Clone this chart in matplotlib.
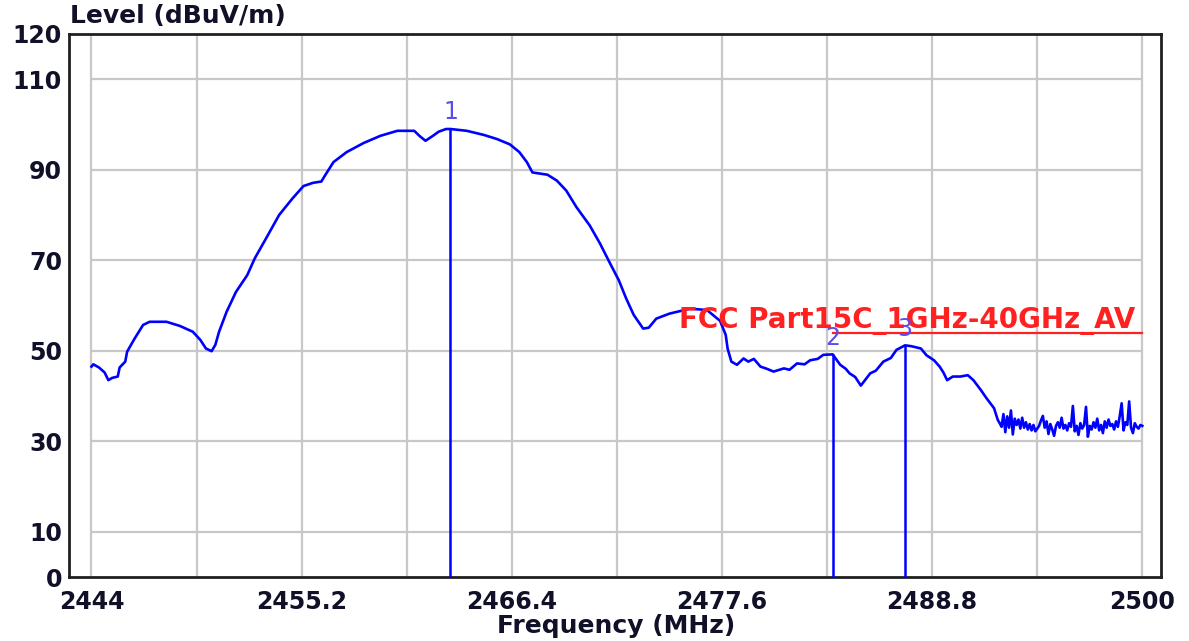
import matplotlib.pyplot as plt

# sweep trace, frequency in MHz and level in dBuV/m
freq = [2444.0, 2444.1, 2444.4, 2444.7, 2444.9, 2445.1, 2445.4, 2445.5, 2445.8, 2445.9,
        2446.3, 2446.75, 2447.1, 2448.0, 2448.7, 2449.4, 2449.8, 2450.1, 2450.4, 2450.6,
        2450.8, 2451.2, 2451.7, 2452.3, 2452.7, 2453.3, 2454.0, 2454.7, 2455.3, 2455.8,
        2456.25, 2456.5, 2456.9, 2457.6, 2458.5, 2459.4, 2460.3, 2461.2, 2461.5, 2461.8,
        2462.2, 2462.5, 2462.9, 2463.13, 2464.0, 2464.9, 2465.6, 2466.3, 2466.8, 2467.2,
        2467.5, 2468.3, 2468.8, 2469.3, 2469.85, 2470.55, 2471.1, 2471.6, 2472.1, 2472.5,
        2472.9, 2473.4, 2473.7, 2474.1, 2474.8, 2475.9, 2476.8, 2477.5, 2477.8, 2477.9,
        2478.1, 2478.4, 2478.75, 2479.0, 2479.3, 2479.65, 2480.0, 2480.35, 2480.9, 2481.2,
        2481.6, 2482.0, 2482.3, 2482.7, 2483.0, 2483.5, 2483.9, 2484.2, 2484.4, 2484.7,
        2485.0, 2485.5, 2485.8, 2486.2, 2486.6, 2486.9, 2487.36, 2487.7, 2488.2, 2488.5,
        2488.9, 2489.2, 2489.4, 2489.6, 2489.9, 2490.3, 2490.7, 2491.0, 2491.4, 2491.7,
        2492.1, 2492.3, 2492.4,
        2492.5, 2492.6, 2492.7, 2492.8, 2492.9, 2493.0, 2493.1, 2493.2, 2493.3, 2493.4,
        2493.5, 2493.6, 2493.7, 2493.8, 2493.9, 2494.0, 2494.1, 2494.2, 2494.3, 2494.4,
        2494.5, 2494.6, 2494.7, 2494.8, 2494.9, 2495.0, 2495.1, 2495.2, 2495.3, 2495.4,
        2495.5, 2495.6, 2495.7, 2495.8, 2495.9, 2496.0, 2496.1, 2496.2, 2496.3, 2496.4,
        2496.5, 2496.6, 2496.7, 2496.8, 2496.9, 2497.0, 2497.1, 2497.2, 2497.3, 2497.4,
        2497.5, 2497.6, 2497.7, 2497.8, 2497.9, 2498.0, 2498.1, 2498.2, 2498.3, 2498.4,
        2498.5, 2498.6, 2498.7, 2498.8, 2498.9, 2499.0, 2499.1, 2499.2, 2499.3, 2499.4,
        2499.5, 2499.6, 2499.7, 2499.8, 2499.9, 2500.0]
level = [46.5, 47.0, 46.3, 45.2, 43.5, 44.0, 44.3, 46.3, 47.6, 49.8,
         52.7, 55.7, 56.4, 56.4, 55.5, 54.2, 52.4, 50.5, 49.9, 51.3,
         54.2, 58.6, 63.0, 66.7, 70.4, 74.8, 80.0, 83.6, 86.4, 87.1,
         87.4, 89.1, 91.7, 93.9, 95.9, 97.5, 98.6, 98.6, 97.4, 96.4,
         97.5, 98.4, 99.0, 99.0, 98.6, 97.7, 96.8, 95.6, 93.9, 91.7,
         89.4, 88.9, 87.6, 85.4, 81.7, 77.7, 73.7, 69.6, 65.6, 61.5,
         57.9, 54.9, 55.1, 57.1, 58.2, 59.3, 59.0, 56.6, 53.5, 50.5,
         47.6, 46.9, 48.3, 47.6, 48.2, 46.5, 46.0, 45.4, 46.1, 45.8,
         47.2, 47.0, 47.9, 48.2, 49.1, 49.2, 46.9, 46.0, 45.0, 44.2,
         42.3, 45.0, 45.6, 47.6, 48.4, 50.2, 51.2, 51.0, 50.5, 49.0,
         47.9, 46.5, 45.2, 43.5, 44.3, 44.3, 44.6, 43.5, 41.3, 39.5,
         37.3, 34.7, 34.0,
         33.2, 36.0, 32.0, 35.5, 33.0, 36.8, 31.5, 35.0, 33.6, 34.8,
         32.8, 35.2, 33.0, 34.2, 32.6, 33.8, 32.4, 33.6, 32.2, 32.8,
         33.4, 34.6, 35.6, 33.0, 34.4, 31.6, 33.8, 32.6, 31.2, 33.4,
         34.2, 33.0, 35.2, 32.8, 33.6, 32.4, 34.0, 33.2, 37.8, 32.2,
         33.4, 31.4, 34.0, 32.8, 33.6, 37.6, 31.0, 33.4, 32.6, 34.2,
         33.0, 35.0, 32.4, 33.6, 31.8, 34.4, 33.0, 34.8, 33.4, 33.8,
         32.6, 34.4, 33.2, 35.6, 38.4, 32.4, 34.2, 33.6, 38.8, 33.0,
         31.8, 34.0, 33.2, 32.8, 33.6, 33.4]

# markers
mk_names = ["1", "2", "3"]
mk_freq = [2463.13, 2483.5, 2487.36]
mk_level = [99.0, 49.2, 51.2]

# limit line
limit_name = "FCC Part15C_1GHz-40GHz_AV"
limit_freq = [2483.5, 2500.0]
limit_level = [54.0, 54.0]

x_ticks = [2444, 2455.2, 2466.4, 2477.6, 2488.8, 2500]
x_tick_labels = ["2444", "2455.2", "2466.4", "2477.6", "2488.8", "2500"]
x_grid = [2444 + 5.6 * k for k in range(11)]
y_ticks = [0, 10, 30, 50, 70, 90, 110, 120]
y_grid = [10, 30, 50, 70, 90, 110]

plt.rcParams['font.family'] = ['DejaVu Sans']

fig = plt.figure(figsize=(11.89, 6.41), dpi=100)
ax = fig.add_axes([0.058, 0.0998, 0.9185, 0.8472])

ax.set_xlim(2442.8, 2501.0)
ax.set_ylim(0, 120)

# grid only spans the data area
ax.vlines(x_grid, 0, 120, color="#c8c8c8", lw=1.6, zorder=0)
ax.hlines(y_grid, 2444, 2500, color="#c8c8c8", lw=1.6, zorder=0)

ax.plot(freq, level, color="#0000ff", lw=1.9, zorder=3)
ax.plot(limit_freq, limit_level, color="#ff2020", lw=1.6, zorder=2)
ax.text(2499.6, 55.0, limit_name, color="#ff2020", fontsize=20,
        fontweight="bold", ha="right", va="baseline", zorder=4)

ax.vlines(mk_freq, 0, mk_level, color="#0000ff", lw=1.8, zorder=3)
for name, f, l in zip(mk_names, mk_freq, mk_level):
    ax.text(f, l + 1.0, name, color="#5b4de8", fontsize=17,
            ha="center", va="bottom", zorder=4)

ax.set_xticks(x_ticks)
ax.set_xticklabels(x_tick_labels)
ax.set_yticks(y_ticks)
ax.tick_params(axis="both", length=0, labelsize=17, colors="#101028")
ax.tick_params(axis="x", pad=9)
ax.tick_params(axis="y", pad=5)
for lab in ax.get_xticklabels() + ax.get_yticklabels():
    lab.set_fontweight("bold")

for side in ax.spines.values():
    side.set_linewidth(2)
    side.set_color("#202020")

fig.text(70 / 1189, 1 - 16 / 641, "Level (dBuV/m)", fontsize=18,
         fontweight="bold", color="#101028", ha="left", va="center")
fig.text(616 / 1189, 1 - 626 / 641, "Frequency (MHz)", fontsize=18,
         fontweight="bold", color="#101028", ha="center", va="center")

fig.savefig("out.png", dpi=100, facecolor="white")
